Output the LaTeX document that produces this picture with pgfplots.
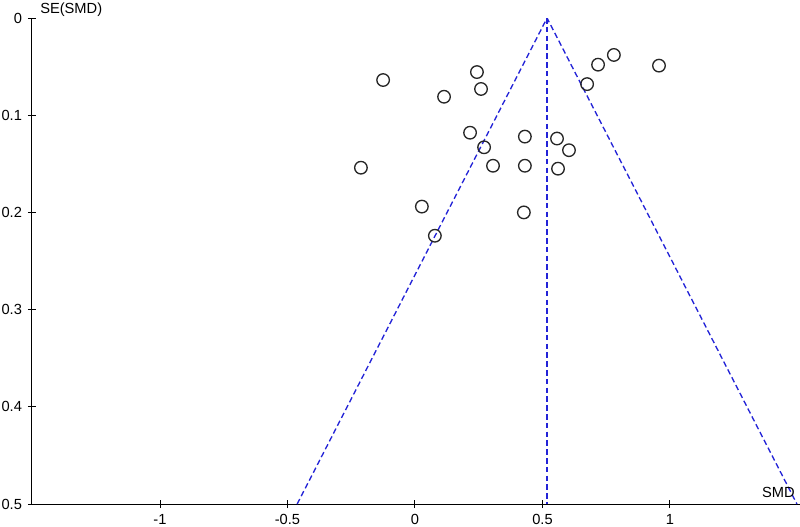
\documentclass[border=0pt]{standalone}
\usepackage{fontspec}
\setmainfont{Liberation Sans}
\usepackage{pgfplots}
\pgfplotsset{compat=1.18}

\definecolor{funnelblue}{RGB}{35,35,215}

\begin{document}
\begin{tikzpicture}[x=1pt,y=1pt]
% 1px = 0.75pt, picture 800x526 px
\path[use as bounding box] (-24,-16.5) rectangle (576,378);
\begin{axis}[
    at={(0,0)}, anchor=south west,
    scale only axis,
    width=576pt, height=364.5pt,
    xmin=-1.502, xmax=1.51,
    ymin=0, ymax=0.5,
    y dir=reverse,
    axis x line=bottom,
    axis y line=left,
    axis line style={-, line width=0.75pt},
    every tick/.style={black, line width=0.75pt},
    tick align=center,
    major tick length=6pt,
    xtick={-1,-0.5,0,0.5,1},
    xticklabels={-1,-0.5,0,0.5,1},
    ytick={0,0.1,0.2,0.3,0.4,0.5},
    yticklabels={0,0.1,0.2,0.3,0.4,0.5},
    tick label style={font=\fontsize{11}{13}\selectfont},
    xticklabel style={yshift=-1pt},
    yticklabel style={xshift=-1pt},
    clip=true,
]
% funnel (pseudo 95% limits) and pooled estimate
\addplot[funnelblue, line width=1pt, dash pattern=on 4.2pt off 2.4pt]
    coordinates {(-0.462,0.5) (0.518,0) (1.498,0.5)};
\addplot[funnelblue, line width=1pt, dash pattern=on 4.2pt off 2.4pt]
    coordinates {(0.518,0) (0.518,0.5)};
% studies
\addplot[only marks, mark=o, mark size=4.7pt,
    mark options={line width=1pt, draw=black!85}]
    coordinates {
    (-0.125,0.0638) (0.243,0.0556) (0.259,0.073) (0.114,0.081)
    (0.718,0.048) (0.780,0.038) (0.957,0.049) (0.675,0.068)
    (0.216,0.118) (0.271,0.133) (0.431,0.122) (0.557,0.124)
    (0.604,0.136) (-0.212,0.154) (0.306,0.152) (0.431,0.152)
    (0.561,0.155) (0.027,0.194) (0.427,0.200) (0.078,0.224)
    };
\end{axis}
\node[anchor=base west, inner sep=0pt, font=\fontsize{11}{13}\selectfont]
    at (6,367.5) {SE(SMD)};
\node[anchor=base east, inner sep=0pt, font=\fontsize{11}{13}\selectfont]
    at (572.25,5.25) {SMD};
\end{tikzpicture}
\end{document}
